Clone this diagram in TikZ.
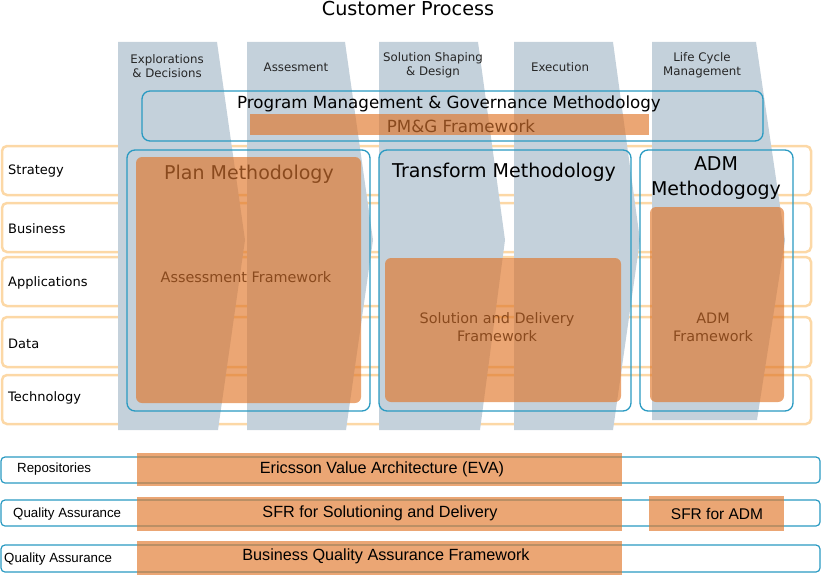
\documentclass[tikz,border=0pt]{standalone}
\usepackage{fontspec}
\setmainfont{DejaVu Sans}
\newfontfamily\arialf{Liberation Sans}
\definecolor{chevgray}{HTML}{C4D1DB}
\definecolor{rowor}{HTML}{FCD8A6}
\definecolor{bluel}{HTML}{2A9AC2}
\definecolor{orb}{HTML}{E07629}
\definecolor{txtbrown}{HTML}{8A4A1E}
\begin{document}
\begin{tikzpicture}[x=1pt,y=-1pt,
  rowbox/.style={draw=rowor, line width=2.5pt, rounded corners=5pt},
  chev/.style={fill=chevgray},
  bluebox/.style={draw=bluel, line width=1.3pt, rounded corners=8pt},
  thinblue/.style={draw=bluel, line width=1.2pt, rounded corners=4pt},
  orbox/.style={fill=orb, fill opacity=0.65, rounded corners=6pt},
  orbar/.style={fill=orb, fill opacity=0.65},
  rowlbl/.style={font=\fontsize{13}{15}\selectfont, anchor=west, inner sep=0pt},
  chevlbl/.style={font=\fontsize{11.8}{14.5}\selectfont, align=center, inner sep=0pt, text=black!85},
  bigtxt/.style={font=\fontsize{19}{25}\selectfont, align=center, inner sep=0pt},
  midtxt/.style={font=\fontsize{14.4}{18}\selectfont, align=center, inner sep=0pt, text=txtbrown},
  botlbl/.style={font=\arialf\fontsize{13.3}{15}\selectfont, anchor=west, inner sep=0pt},
  bottxt/.style={font=\arialf\fontsize{16.2}{18}\selectfont, inner sep=0pt}]
\useasboundingbox (0,0) rectangle (821,575);
% title
\node[font=\fontsize{19.2}{21}\selectfont, inner sep=0pt] (title) at (408,9) {Customer Process};
% rows
\draw[rowbox] (2,146) rectangle (811,195);
\draw[rowbox] (2,203) rectangle (811,252);
\draw[rowbox] (2,257) rectangle (811,306);
\draw[rowbox] (2,317) rectangle (811,367);
\draw[rowbox] (2,375) rectangle (811,424);
% chevrons
\fill[chev] (118,42) -- (217,42) -- (245,240) -- (218,430) -- (118,430) -- cycle;
\fill[chev] (247,42) -- (345,42) -- (373,240) -- (346,430) -- (247,430) -- cycle;
\fill[chev] (379,42) -- (478,42) -- (505,240) -- (480,430) -- (379,430) -- cycle;
\fill[chev] (514,42) -- (613,42) -- (640,240) -- (613,430) -- (514,430) -- cycle;
\fill[chev] (652,42) -- (756,42) -- (785,240) -- (757,420) -- (652,420) -- cycle;
% chevron labels
\node[chevlbl] (c1) at (167,66) {Explorations\\\& Decisions};
\node[chevlbl] (c2) at (296,67) {Assesment};
\node[chevlbl] (c3) at (433,65) {Solution Shaping\\\& Design};
\node[chevlbl] (c4) at (560,67) {Execution};
\node[chevlbl] (c5) at (702,65) {Life Cycle\\Management};
% row labels
\node[rowlbl] (lstr) at (8,171) {Strategy};
\node[rowlbl] (lbus) at (8,229) {Business};
\node[rowlbl] (lapp) at (8,283) {Applications};
\node[rowlbl] (ldat) at (8,344) {Data};
\node[rowlbl] (ltec) at (8,398) {Technology};
% PM&G
\draw[bluebox] (142,91) rectangle (763,141);
\fill[orbar] (250,114) rectangle (649,135);
\node[font=\fontsize{16.7}{19}\selectfont, inner sep=0pt] (pmg) at (449,104) {Program Management \& Governance Methodology};
\node[font=\fontsize{16.7}{19}\selectfont, inner sep=0pt, text=txtbrown] (pmgf) at (461,126) {PM\&G Framework};
% methodology boxes
\draw[bluebox] (127,150) rectangle (370,411);
\draw[bluebox] (379,150) rectangle (631,411);
\draw[bluebox] (640,150) rectangle (793,411);
\fill[orbox] (136,157) rectangle (361,403);
\fill[orbox] (385,258) rectangle (621,402);
\fill[orbox] (650,207) rectangle (784,402);
\node[bigtxt, text=txtbrown] (plan) at (249,174) {Plan Methodology};
\node[midtxt] (assf) at (246,277) {Assessment Framework};
\node[bigtxt] (trans) at (504,172) {Transform Methodology};
\node[midtxt] (sdf) at (497,327) {Solution and Delivery\\Framework};
\node[bigtxt] (adm) at (716,178) {ADM\\Methodogogy};
\node[midtxt] (admf) at (713,327) {ADM\\Framework};
% bottom rows
\draw[thinblue] (1,457) rectangle (820,483);
\draw[thinblue] (1,500) rectangle (820,526);
\draw[thinblue] (1,545) rectangle (820,572);
\fill[orbar] (137,453) rectangle (622,486);
\fill[orbar] (137,497) rectangle (622,531);
\fill[orbar] (649,496) rectangle (784,531);
\fill[orbar] (137,541) rectangle (622,575);
\node[botlbl] (lrep) at (17,469) {Repositories};
\node[botlbl] (lqa1) at (13,514) {Quality Assurance};
\node[botlbl] (lqa2) at (4,559) {Quality Assurance};
\node[bottxt] (eva) at (382,469) {Ericsson Value Architecture (EVA)};
\node[bottxt] (sfr) at (380,513) {SFR for Solutioning and Delivery};
\node[bottxt, font=\arialf\fontsize{15.5}{18}\selectfont] (sfradm) at (717,514) {SFR for ADM};
\node[bottxt] (bqa) at (386,556) {Business Quality Assurance Framework};
\end{tikzpicture}
\end{document}
